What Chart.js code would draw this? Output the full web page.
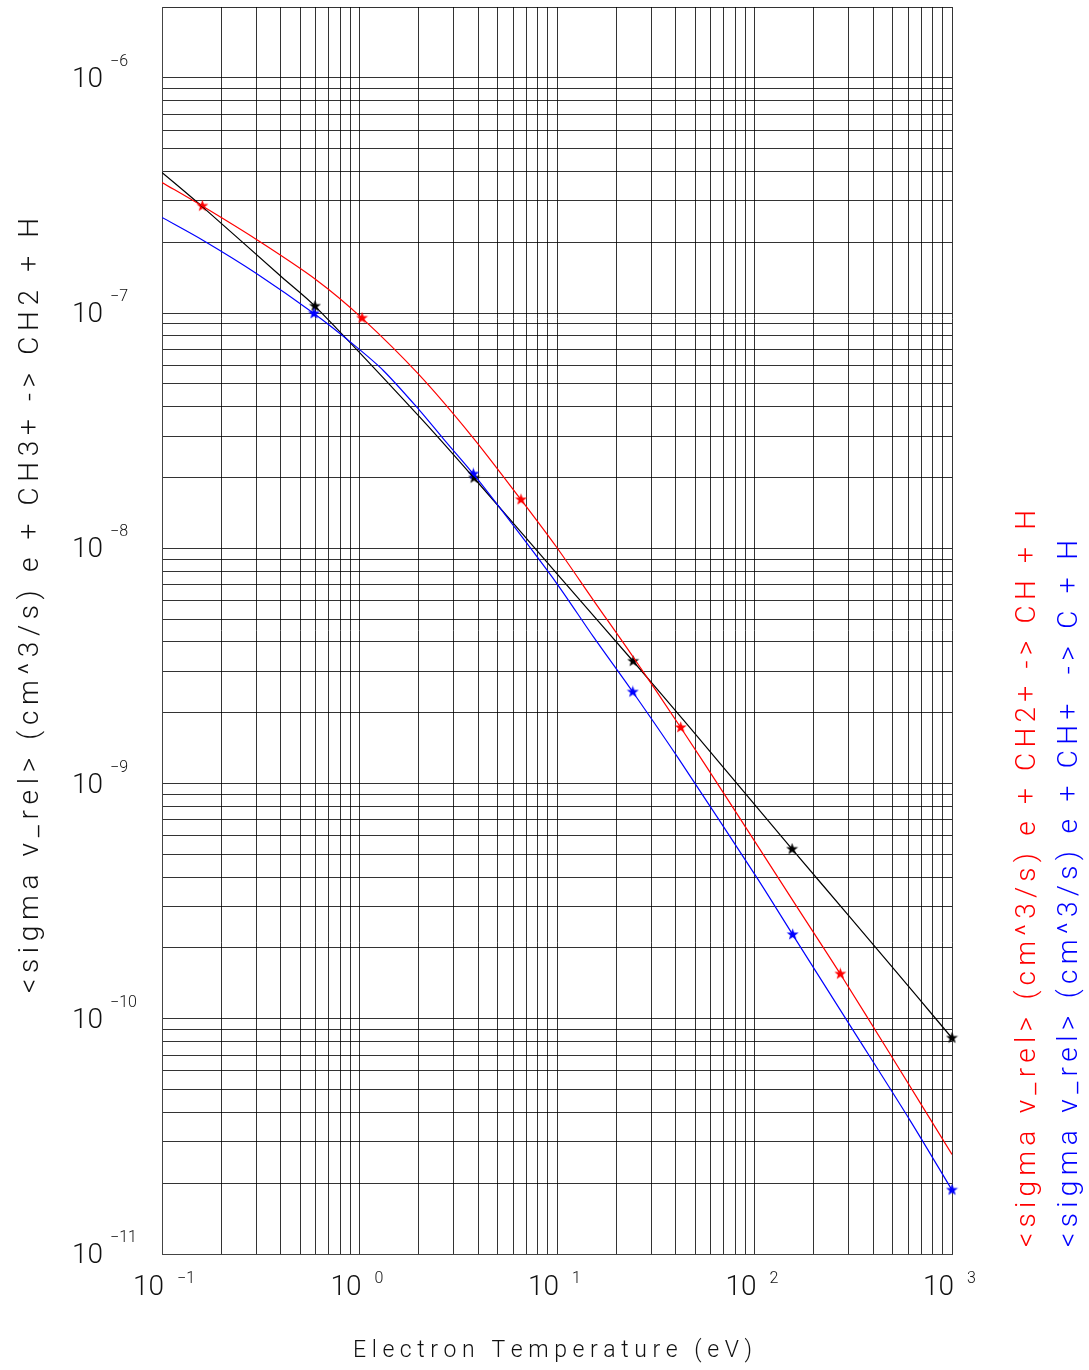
<!DOCTYPE html>
<html>
<head>
<meta charset="utf-8">
<script src="https://cdn.jsdelivr.net/npm/chart.js@4.4.1/dist/chart.umd.min.js"></script>
<style>
  html, body { margin: 0; padding: 0; background: #fff; }
  canvas { display: block; }
</style>
</head>
<body>
<canvas id="grafico" width="1089" height="1370"></canvas>
<script>
// ------------------------------------------------------------
//  Rate coefficients vs electron temperature (log-log)
// ------------------------------------------------------------

// e + CH3+ -> CH2 + H  (black)
const blackT    = [0.1, 0.161, 0.405, 0.595, 2.02, 3.80, 9.96, 24.3, 47.1, 155, 305, 662, 1000];
const blackRate = [3.96e-7, 2.82e-7, 1.42e-7, 1.07e-7, 3.61e-8, 1.99e-8, 7.82e-9, 3.31e-9, 1.73e-9, 5.26e-10, 2.70e-10, 1.25e-10, 8.28e-11];
const blackStarT    = [0.595, 3.80, 24.3, 155, 1000];
const blackStarRate = [1.07e-7, 1.99e-8, 3.31e-9, 5.26e-10, 8.28e-11];

// e + CH2+ -> CH + H  (red)
const redT    = [0.1, 0.160, 0.302, 0.607, 1.03, 1.99, 3.70, 6.57, 9.96, 15.3, 24.3, 42.3, 73.7, 164, 272, 485, 1000];
const redRate = [3.59e-7, 2.85e-7, 2.05e-7, 1.38e-7, 9.52e-8, 5.50e-8, 3.00e-8, 1.61e-8, 1.01e-8, 6.01e-9, 3.45e-9, 1.73e-9, 8.48e-10, 2.99e-10, 1.55e-10, 7.10e-11, 2.65e-11];
const redStarT    = [0.160, 1.03, 6.57, 42.3, 272];
const redStarRate = [2.85e-7, 9.52e-8, 1.61e-8, 1.73e-9, 1.55e-10];

// e + CH+ -> C + H  (blue)
const blueT    = [0.1, 0.161, 0.302, 0.588, 0.95, 1.32, 2.02, 2.66, 3.77, 6.01, 9.96, 15.3, 24.2, 40.4, 103, 156, 305, 613, 1000];
const blueRate = [2.55e-7, 2.04e-7, 1.47e-7, 9.95e-8, 7.25e-8, 5.70e-8, 3.85e-8, 2.92e-8, 2.07e-8, 1.25e-8, 7.10e-9, 4.20e-9, 2.45e-9, 1.31e-9, 3.97e-10, 2.28e-10, 9.35e-11, 3.70e-11, 1.87e-11];
const blueStarT    = [0.588, 3.77, 24.2, 156, 1000];
const blueStarRate = [9.95e-8, 2.07e-8, 2.45e-9, 2.28e-10, 1.87e-11];

// axis ranges and decade labels
const X_MIN = 0.1, X_MAX = 1000;
const Y_MIN = 1e-11, Y_MAX = 2e-6;
const xDecades = [-1, 0, 1, 2, 3];
const yDecades = [-11, -10, -9, -8, -7, -6];

const yTitle    = '<sigma v_rel> (cm^3/s) e + CH3+ -> CH2 + H';
const redTitle  = '<sigma v_rel> (cm^3/s) e + CH2+ -> CH + H';
const blueTitle = '<sigma v_rel> (cm^3/s) e + CH+  -> C + H';
const xTitle    = 'Electron Temperature (eV)';

const ROJO  = '#ff0000';
const AZUL  = '#0000ff';
const NEGRO = '#000000';
const FONT  = 'Roboto, "Liberation Sans", sans-serif';

// helpers
const pts = (xs, ys) => xs.map((x, i) => ({ x, y: ys[i] }));

function logTicks(min, max) {
  const out = [];
  for (let e = Math.floor(Math.log10(min)); e <= Math.ceil(Math.log10(max)); e++) {
    for (let m = 1; m <= 9; m++) {
      const v = m * Math.pow(10, e);
      if (v >= min * 0.999 && v <= max * 1.001) out.push({ value: v });
    }
  }
  return out;
}

function starImg(color) {
  const c = document.createElement('canvas');
  c.width = c.height = 13;
  const g = c.getContext('2d');
  g.fillStyle = color;
  g.beginPath();
  for (let i = 0; i < 10; i++) {
    const r = i % 2 ? 2.6 : 6.3;
    const a = -Math.PI / 2 + i * Math.PI / 5;
    g.lineTo(6.5 + r * Math.cos(a), 6.5 + r * Math.sin(a));
  }
  g.closePath();
  g.fill();
  return c;
}

// spaced text (Hershey-like wide spacing), drawn char by char
function spacedText(ctx, text, x, y, targetWidth) {
  const widths = [...text].map(ch => ctx.measureText(ch).width);
  const natural = widths.reduce((s, w) => s + w, 0);
  const extra = (targetWidth - natural) / (text.length - 1);
  let cx = x;
  [...text].forEach((ch, i) => {
    ctx.fillText(ch, cx, y);
    cx += widths[i] + extra;
  });
}

const linea = (data, color) => ({
  data, borderColor: color, borderWidth: 1.2, pointRadius: 0,
  tension: 0.3, fill: false
});
const estrellas = (data, color) => ({
  data, showLine: false, pointStyle: starImg(color), pointRadius: 6,
  pointHoverRadius: 6, clip: false
});

// text plugin: tick labels with exponents + titles
const textos = {
  id: 'textos',
  afterDraw(chart) {
    const ctx = chart.ctx;
    const sx = chart.scales.x, sy = chart.scales.y;
    ctx.save();
    ctx.fillStyle = '#111';
    ctx.textBaseline = 'alphabetic';
    ctx.textAlign = 'left';

    // x tick labels
    xDecades.forEach(e => {
      const px = sx.getPixelForValue(Math.pow(10, e));
      ctx.font = '300 28px ' + FONT;
      ctx.fillText('10', px - 29, 1295);
      ctx.font = '300 16px ' + FONT;
      ctx.fillText(e < 0 ? '\u2212' + (-e) : String(e), px + 15, 1283);
    });

    // y tick labels
    yDecades.forEach(e => {
      const py = sy.getPixelForValue(Math.pow(10, e));
      ctx.font = '300 28px ' + FONT;
      ctx.fillText('10', 72, py + 9);
      ctx.font = '300 16px ' + FONT;
      ctx.fillText('\u2212' + (-e), 110, py - 12);
    });

    // x title
    ctx.font = '300 23px ' + FONT;
    spacedText(ctx, xTitle, 353, 1357, 399);

    // rotated titles
    const rot = (text, bx, startY, len, color) => {
      ctx.save();
      ctx.translate(bx, startY);
      ctx.rotate(-Math.PI / 2);
      ctx.fillStyle = color;
      ctx.font = '300 28px ' + FONT;
      spacedText(ctx, text, 0, 0, len);
      ctx.restore();
    };
    rot(yTitle, 38, 993, 775, '#111');
    rot(redTitle, 1035, 1247, 737, ROJO);
    rot(blueTitle, 1077, 1247, 707, AZUL);
    ctx.restore();
  }
};

const gridOpts = { color: 'rgba(0,0,0,0.8)', lineWidth: 1, drawTicks: false, tickLength: 0 };

new Chart(document.getElementById('grafico'), {
  type: 'line',
  data: {
    datasets: [
      linea(pts(redT, redRate), ROJO),
      linea(pts(blueT, blueRate), AZUL),
      linea(pts(blackT, blackRate), NEGRO),
      estrellas(pts(redStarT, redStarRate), ROJO),
      estrellas(pts(blueStarT, blueStarRate), AZUL),
      estrellas(pts(blackStarT, blackStarRate), NEGRO)
    ]
  },
  options: {
    responsive: false,
    animation: false,
    devicePixelRatio: 1,
    layout: { padding: { top: 7, right: 137, left: 0, bottom: 0 } },
    plugins: { legend: { display: false }, tooltip: { enabled: false } },
    scales: {
      x: {
        type: 'logarithmic', min: X_MIN, max: X_MAX,
        grid: gridOpts,
        border: { display: true, color: '#444', width: 1 },
        ticks: { display: false },
        afterBuildTicks: s => { s.ticks = logTicks(X_MIN, X_MAX); },
        afterFit: s => { s.height = 116; }
      },
      y: {
        type: 'logarithmic', min: Y_MIN, max: Y_MAX,
        grid: gridOpts,
        border: { display: true, color: '#444', width: 1 },
        ticks: { display: false },
        afterBuildTicks: s => { s.ticks = logTicks(Y_MIN, Y_MAX); },
        afterFit: s => { s.width = 162; }
      }
    }
  },
  plugins: [textos]
});
</script>
</body>
</html>
